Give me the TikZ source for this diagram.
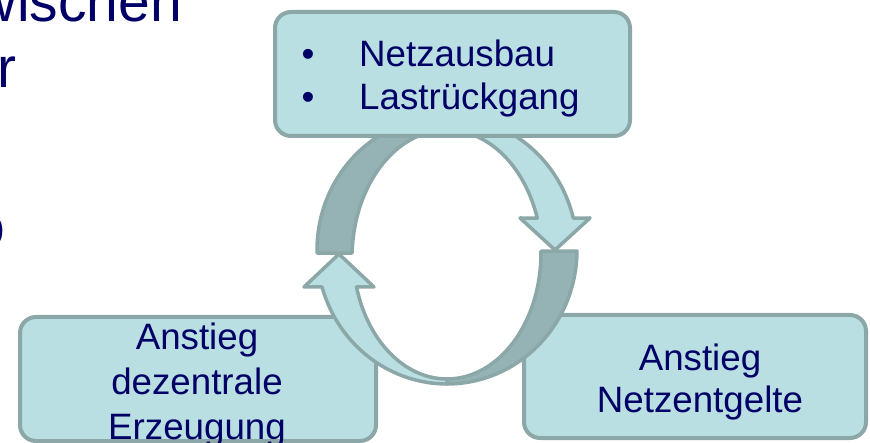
\documentclass[tikz,border=0pt]{standalone}
\usepackage{fontspec}
\setmainfont{Liberation Sans}
\definecolor{boxfill}{RGB}{185,223,226}
\definecolor{darkfill}{RGB}{149,179,181}
\definecolor{edgecol}{RGB}{140,167,168}
\definecolor{navy}{RGB}{0,0,102}
\begin{document}
\begin{tikzpicture}[x=1pt,y=-1pt,
  box/.style={draw=edgecol, fill=boxfill, line width=4pt, rounded corners=16pt, inner sep=0pt},
  lightband/.style={draw=edgecol, fill=boxfill, line width=3.5pt, line join=round},
  darkband/.style={draw=edgecol, fill=darkfill, line width=3.5pt, line join=round},
  txt/.style={text=navy, font=\fontsize{36.7}{44}\selectfont, inner sep=0pt},
  big/.style={text=navy, font=\fontsize{57}{66}\selectfont, inner sep=0pt}]
\useasboundingbox (0,0) rectangle (870,443);

% background slide text (clipped)
\node[big, anchor=base east] (w1) at (182,22) {wischen};
\node[big, anchor=base west] (w2) at (-3,88) {r};
\node[big, anchor=base east] (w3) at (5,247) {o};

% lower boxes
\node[box, minimum width=356pt, minimum height=124pt] (lbox) at (198,379) {};
\node[box, minimum width=342pt, minimum height=123pt] (rbox) at (695,376.5) {};

% white interior of the ring
\fill[white] plot[domain=180:360,samples=60,variable=\t] ({447+95*cos(\t)},{258+128*sin(\t)})
  -- plot[domain=0:180,samples=60,variable=\t] ({447+94*cos(\t)},{253+126*sin(\t)}) -- cycle;

% ring: upper-left dark
\path[darkband] plot[domain=178.7:270,samples=40,variable=\t] ({447+130*cos(\t)},{250+134*sin(\t)})
  -- plot[domain=270:182.2,samples=40,variable=\t] ({447+95*cos(\t)},{258+128*sin(\t)}) -- cycle;
% ring: lower-right dark
\path[darkband] plot[domain=0.43:90,samples=40,variable=\t] ({447+130*cos(\t)},{250+134*sin(\t)})
  -- plot[domain=90:-0.9,samples=40,variable=\t] ({447+94*cos(\t)},{253+126*sin(\t)}) -- cycle;
% ring: upper-right light arrow (pointing down)
\path[lightband] plot[domain=270:346.2,samples=40,variable=\t] ({447+130*cos(\t)},{250+134*sin(\t)})
  -- (590,218) -- (555,250) -- (520,218)
  -- plot[domain=341.8:270,samples=40,variable=\t] ({447+95*cos(\t)},{258+128*sin(\t)}) -- cycle;
% ring: lower-left light arrow (pointing up)
\path[lightband] plot[domain=90:163.97,samples=40,variable=\t] ({447+130*cos(\t)},{250+134*sin(\t)})
  -- (304,287) -- (339,254) -- (374,287)
  -- plot[domain=164.35:90,samples=40,variable=\t] ({447+94*cos(\t)},{253+126*sin(\t)}) -- cycle;

% top box
\node[box, minimum width=355pt, minimum height=124pt] (tbox) at (452.5,74) {};

% texts
\node[txt, anchor=base] (b1) at (308,67) {•};
\node[txt, anchor=base west] (t1) at (359,67) {Netzausbau};
\node[txt, anchor=base] (b2) at (308,110) {•};
\node[txt, anchor=base west] (t2) at (359,110) {Lastrückgang};

\node[txt, anchor=base] (l1) at (197,350) {Anstieg};
\node[txt, anchor=base] (l2) at (197,395) {dezentrale};
\node[txt, anchor=base] (l3) at (197,439) {Erzeugung};

\node[txt, anchor=base] (r1) at (700,371) {Anstieg};
\node[txt, anchor=base] (r2) at (700,413) {Netzentgelte};
\end{tikzpicture}
\end{document}
